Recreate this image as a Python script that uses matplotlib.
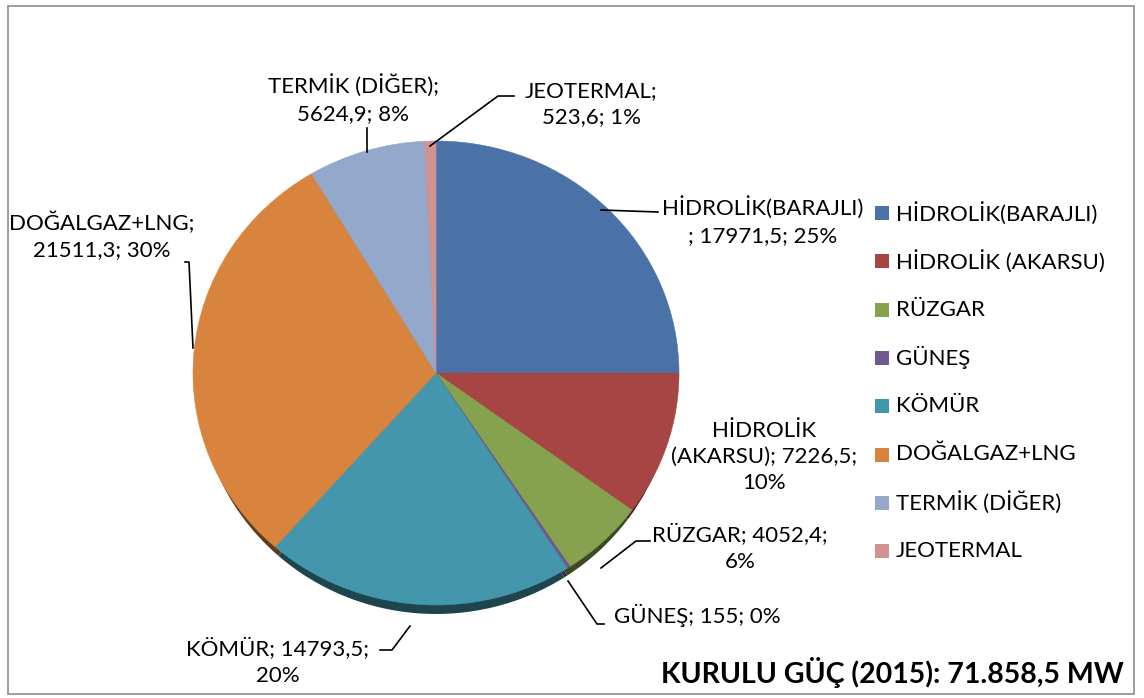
import matplotlib
matplotlib.use("Agg")
import matplotlib.pyplot as plt
from matplotlib.transforms import Affine2D
from matplotlib.patches import Rectangle
import matplotlib.colors as mcolors

categories = ["HİDROLİK(BARAJLI)", "HİDROLİK (AKARSU)", "RÜZGAR", "GÜNEŞ",
              "KÖMÜR", "DOĞALGAZ+LNG", "TERMİK (DİĞER)", "JEOTERMAL"]
values = [17971.5, 7226.5, 4052.4, 155, 14793.5, 21511.3, 5624.9, 523.6]
value_labels = ["17971,5", "7226,5", "4052,4", "155", "14793,5", "21511,3", "5624,9", "523,6"]
percent_labels = ["25%", "10%", "6%", "0%", "20%", "30%", "8%", "1%"]
colors = ["#4A72A6", "#A74544", "#86A24E", "#71588F", "#4396AB", "#D8843F", "#93A8CB", "#D19392"]
title_text = "KURULU GÜÇ (2015): 71.858,5 MW"

FONT = ["Lato", "DejaVu Sans"]
W, H = 1144, 698
fig = plt.figure(figsize=(W / 100, H / 100), dpi=100)
ax = fig.add_axes([0, 0, 1, 1])
ax.set_xlim(0, W)
ax.set_ylim(0, H)
ax.axis("off")

def Y(y):
    return H - y

# frame
ax.add_patch(Rectangle((8, Y(694)), 1126, 688, fill=False, edgecolor="#8C8C8C", lw=1.2))

cx, cy = 436, Y(373)
rx, ry = 243, 232

# depth / shadow pie
dark = [mcolors.to_hex([c * 0.45 for c in mcolors.to_rgb(col)]) for col in colors]
sw, _ = ax.pie(values, colors=dark, startangle=90, counterclock=False,
               wedgeprops=dict(linewidth=0))
for w in sw:
    w.set_transform(Affine2D().scale(rx - 5, ry).translate(cx, cy - 9) + ax.transData)
    w.set_zorder(1)

wedges, _ = ax.pie(values, colors=colors, startangle=90, counterclock=False,
                   wedgeprops=dict(linewidth=0.4))
for w, col in zip(wedges, colors):
    w.set_edgecolor(col)
    w.set_transform(Affine2D().scale(rx, ry).translate(cx, cy) + ax.transData)
    w.set_zorder(2)
ax.set_xlim(0, W)
ax.set_ylim(0, H)
ax.set_aspect("auto")

fs = 16
lab = dict(fontsize=fs, family=FONT, color="black", ha="center", va="center", linespacing=1.4)

def lines(pts):
    xs = [p[0] for p in pts]
    ys = [Y(p[1]) for p in pts]
    ax.plot(xs, ys, color="black", lw=1.2, zorder=3)

ax.text(763, Y(221), f"{categories[0]}\n; {value_labels[0]}; {percent_labels[0]}", **lab)
lines([(601, 210), (658, 212)])

ax.text(764, Y(457), f"HİDROLİK\n(AKARSU); {value_labels[1]};\n{percent_labels[1]}", **lab)

ax.text(740, Y(548), f"{categories[2]}; {value_labels[2]};\n{percent_labels[2]}", **lab)
lines([(601, 568), (636, 541), (650, 541)])

ax.text(697, Y(615), f"{categories[3]}; {value_labels[3]}; {percent_labels[3]}", **lab)
lines([(568, 581), (597, 624), (604, 624)])

ax.text(278, Y(662), f"{categories[4]}; {value_labels[4]};\n{percent_labels[4]}", **lab)
lines([(410, 626), (392, 650), (380, 650)])

ax.text(102, Y(236), f"{categories[5]};\n{value_labels[5]}; {percent_labels[5]}", **lab)
lines([(193, 348), (189, 262), (185, 262)])

ax.text(353, Y(99), f"{categories[6]};\n{value_labels[6]}; {percent_labels[6]}", **lab)
lines([(367, 152), (367, 128)])

ax.text(591, Y(104), f"{categories[7]};\n{value_labels[7]}; {percent_labels[7]}", **lab)
lines([(430, 146), (498, 96), (514, 96)])

# legend
leg_y0, leg_dy = 213, 48.3
for i, (name, col) in enumerate(zip(categories, colors)):
    yy = leg_y0 + i * leg_dy
    ax.add_patch(Rectangle((875, Y(yy) - 7), 14, 14, facecolor=col, edgecolor="none", zorder=3))
    ax.text(896, Y(yy), name, fontsize=fs, family=FONT, ha="left", va="center")

ax.text(1124, Y(672), title_text, fontsize=20.5, family=FONT, fontweight="bold",
        ha="right", va="center")

fig.savefig("out.png", dpi=100)
